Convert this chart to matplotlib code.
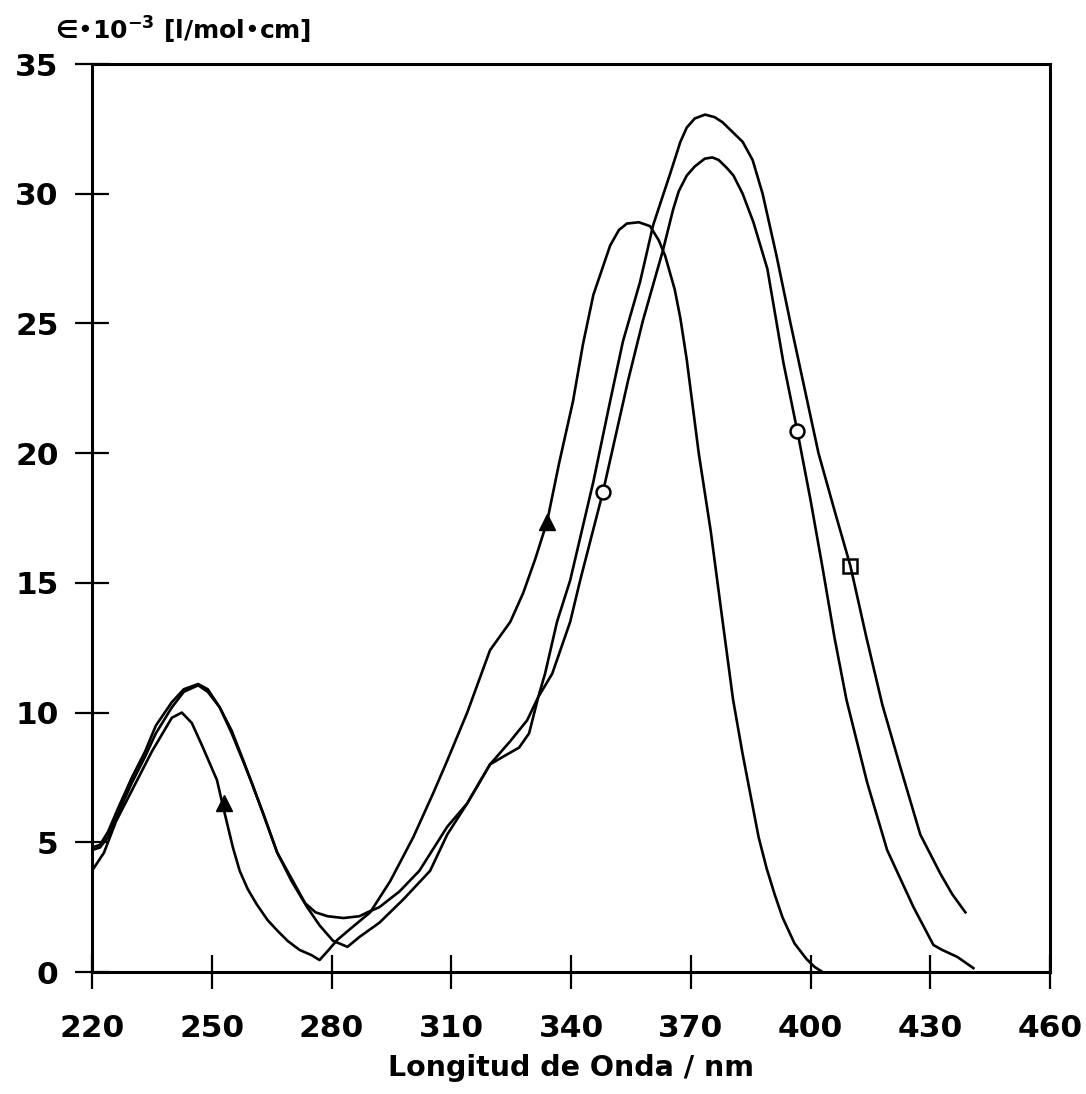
import matplotlib
matplotlib.use("Agg")
import matplotlib.pyplot as plt

# curve with triangle marker
wl_a = [220, 223, 226, 230, 235, 240, 242.5, 245, 247.8, 251.3, 252.8, 255.3, 257,
        259, 261.3, 264, 266.4, 269, 272, 275, 277, 279, 281.4, 285, 289.7, 294.7, 300.5,
        305.5, 309, 314, 319.7, 324.8, 328, 331, 334, 337, 340.5, 343, 345.6, 349.8,
        352, 354, 357, 359.8, 362, 363.6, 366, 367.4, 369, 372, 375, 378, 380.6, 383,
        385, 387, 389, 391, 393, 396, 399, 401, 403]
eps_a = [3.9, 4.6, 5.8, 7.0, 8.5, 9.8, 10.0, 9.6, 8.65, 7.4, 6.4, 4.8, 3.9,
         3.2, 2.6, 2.0, 1.6, 1.2, 0.85, 0.65, 0.46, 0.8, 1.23, 1.7, 2.3, 3.5, 5.2,
         6.9, 8.15, 10.0, 12.4, 13.5, 14.6, 15.9, 17.35, 19.6, 22.0, 24.2, 26.1, 28.0,
         28.6, 28.85, 28.9, 28.75, 28.2, 27.6, 26.3, 25.2, 23.6, 20.0, 17.0, 13.5, 10.5, 8.4,
         6.8, 5.2, 4.0, 3.0, 2.1, 1.1, 0.5, 0.2, 0.0]

# curve with circle markers
wl_b = [220, 222, 224, 226.5, 230, 233.3, 236, 240, 243, 246.6, 249, 252, 255, 257.8,
        260, 262.9, 266.4, 270, 273.9, 277, 280.4, 284, 287, 292, 298, 304.7, 309, 314,
        319.7, 324.8, 329, 331.8, 335.3, 339.8, 342.3, 348, 354.3, 358, 363, 365.6, 367,
        369, 371, 373.5, 375.4, 377, 379, 380.7, 383, 385.7, 389.2, 393.2, 396.7, 400,
        403, 406, 409, 414.2, 419.2, 425.8, 430.8, 433, 436.8, 440.8]
eps_b = [4.7, 4.8, 5.2, 6.1, 7.3, 8.3, 9.2, 10.2, 10.8, 11.05, 10.8, 10.2, 9.2, 8.15,
         7.3, 6.1, 4.6, 3.5, 2.5, 1.8, 1.2, 0.97, 1.35, 1.9, 2.8, 3.9, 5.3, 6.5,
         8.0, 8.9, 9.7, 10.6, 11.5, 13.5, 15.1, 18.5, 22.8, 25.1, 27.8, 29.4, 30.1,
         30.7, 31.05, 31.35, 31.4, 31.3, 31.0, 30.7, 30.0, 28.9, 27.1, 23.5, 20.85, 18.2,
         15.6, 12.9, 10.5, 7.3, 4.7, 2.5, 1.04, 0.85, 0.58, 0.15]

# curve with square marker
wl_c = [220, 222, 224, 226.5, 230, 233.3, 236, 240, 243, 246.6, 249, 252, 255, 257.8,
        260, 262.9, 266.4, 270, 273.4, 276, 279, 283, 287, 289, 292, 297, 302, 309, 314,
        319.7, 323, 327, 329.5, 331.8, 333.5, 336.5, 339.8, 345.6, 349.8, 353, 357.3,
        360.6, 364.9, 367.4, 369, 371, 373.6, 376, 378, 380, 383, 385.5, 388, 391.5,
        395, 398.5, 402, 406, 410, 414, 418, 422.5, 427.5, 432.5, 435.5, 438.8]
eps_c = [4.8, 4.9, 5.4, 6.3, 7.5, 8.5, 9.5, 10.4, 10.9, 11.1, 10.9, 10.2, 9.3, 8.2,
         7.3, 6.1, 4.6, 3.6, 2.65, 2.3, 2.15, 2.08, 2.15, 2.3, 2.5, 3.1, 3.9, 5.6, 6.5,
         8.0, 8.3, 8.65, 9.2, 10.6, 11.5, 13.5, 15.1, 18.9, 22.0, 24.3, 26.6,
         28.8, 30.8, 32.0, 32.55, 32.9, 33.05, 32.95, 32.75, 32.45, 32.0, 31.3, 30.0, 27.6,
         25.0, 22.5, 20.0, 17.8, 15.65, 12.9, 10.3, 7.9, 5.3, 3.8, 3.0, 2.3]

tri_x, tri_y = [253, 334], [6.5, 17.35]
circ_x, circ_y = [348, 396.7], [18.5, 20.85]
sq_x, sq_y = [410], [15.65]

xticks = [220, 250, 280, 310, 340, 370, 400, 430, 460]
yticks = [0, 5, 10, 15, 20, 25, 30, 35]

plt.rcParams["font.family"] = "DejaVu Sans"
plt.rcParams["mathtext.default"] = "bf"

W, H = 1086, 1094
fig = plt.figure(figsize=(W / 100, H / 100), dpi=100)
ax = fig.add_axes([92 / W, 1 - 972 / H, (1050 - 92) / W, (972 - 64) / H])

for wl, eps in [(wl_a, eps_a), (wl_b, eps_b), (wl_c, eps_c)]:
    ax.plot(wl, eps, color="black", lw=1.9, solid_joinstyle="round")

ax.plot(tri_x, tri_y, ls="none", marker="^", ms=11, color="black")
ax.plot(circ_x, circ_y, ls="none", marker="o", ms=10, mfc="white", mec="black", mew=1.8)
ax.plot(sq_x, sq_y, ls="none", marker="s", ms=10, mfc="none", mec="black", mew=1.8)

ax.set_xlim(220, 460)
ax.set_ylim(0, 35)
ax.set_xticks(xticks)
ax.set_yticks(yticks)
ax.tick_params(direction="inout", length=24, width=1.6, labelsize=22.5, colors="black")
ax.tick_params(axis="x", pad=18)
ax.tick_params(axis="y", pad=12)
for lab in ax.get_xticklabels() + ax.get_yticklabels():
    lab.set_fontweight("bold")
for sp in ax.spines.values():
    sp.set_linewidth(2.2)

ax.set_xlabel("Longitud de Onda / nm", fontsize=20.5, fontweight="bold", labelpad=8)
fig.text(55 / W, 1 - 30 / H, "\u2208\u202210$^{-3}$ [l/mol\u2022cm]",
         fontsize=18, fontweight="bold", va="center", ha="left")

fig.savefig("out.png", dpi=100)
